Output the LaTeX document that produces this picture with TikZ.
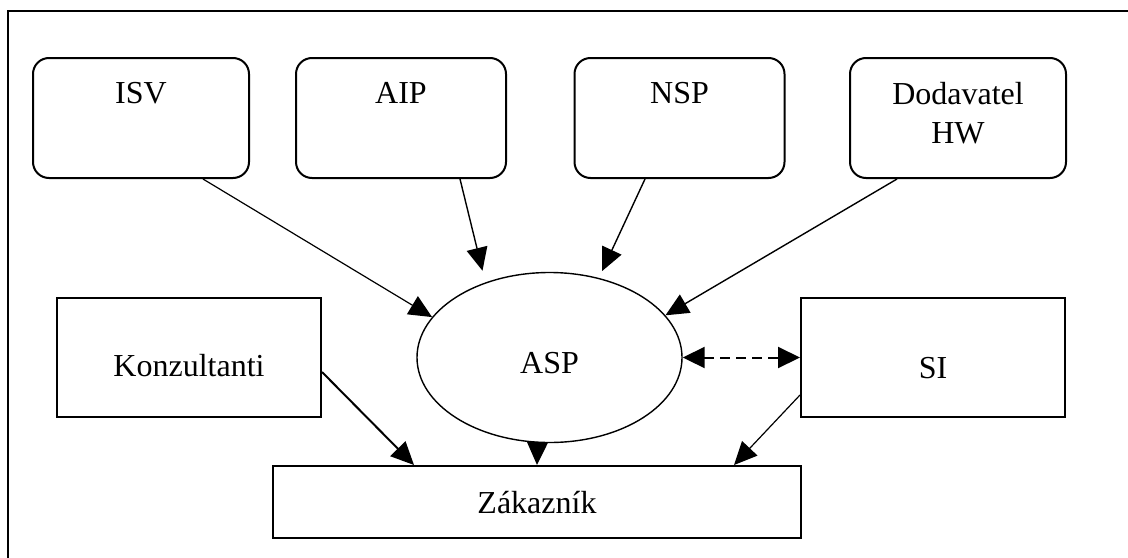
\documentclass[tikz,border=0pt]{standalone}
\usepackage{fontspec}
\setmainfont{Liberation Serif}
\usetikzlibrary{shapes.geometric,arrows.meta}
\newcommand\diagfont{\fontsize{16}{19.5}\selectfont}
\tikzset{
  topbox/.style={draw, line width=1pt, rounded corners=8pt, minimum height=60pt, inner sep=0pt},
  toptext/.style={anchor=north, inner sep=0pt, align=center, yshift=-12.5pt},
  plainbox/.style={draw, line width=1pt, inner sep=0pt, text depth=0pt},
  arr/.style={-{Triangle[length=11.5pt,width=10.5pt]}, line width=0.7pt},
  dblarr/.style={{Triangle[length=11pt,width=10.5pt]}-{Triangle[length=11pt,width=10.5pt]}, line width=1pt, dash pattern=on 5pt off 3pt},
}
\begin{document}
\begin{tikzpicture}[x=0.5pt,y=-0.5pt,font=\diagfont]
\useasboundingbox (0,0) rectangle (1128,557);
% frame (top and left sides only visible)
\draw[line width=1pt] (8,562) -- (8,11) -- (1133,11);

% top row
\node[topbox, minimum width=108pt, label={[name=isvt, toptext]north:ISV}] (isv) at (141,118) {};
\node[topbox, minimum width=105pt, label={[name=aipt, toptext]north:AIP}] (aip) at (401,118) {};
\node[topbox, minimum width=105pt, label={[name=nspt, toptext]north:NSP}] (nsp) at (679.5,118) {};
\node[topbox, minimum width=108pt, label={[name=dodt, toptext]north:Dodavatel\\HW}] (dod) at (958,118) {};

% middle row
\node[plainbox, minimum width=132pt, minimum height=59.5pt, text height=18.5pt] (kon) at (189,357.5) {Konzultanti};
\node[draw, ellipse, line width=0.7pt, inner sep=0pt, minimum width=132.5pt, minimum height=85pt, text height=16pt, text depth=0pt] (asp) at (549.5,357.5) {ASP};
\node[plainbox, minimum width=132pt, minimum height=59.5pt, text height=21pt] (si) at (933,357.5) {SI};

% bottom
\node[plainbox, minimum width=264pt, minimum height=36pt, text height=11pt] (zak) at (537,502) {Zákazník};

% connectors
\draw[arr, line width=0.6pt] ([xshift=31pt]isv.south) -- (asp.161);
\draw[arr] ([xshift=29.5pt]aip.south) -- ([shift={(-1pt,6pt)}]asp.131);
\draw[arr] ([xshift=-17.25pt]nsp.south) -- ([shift={(1.5pt,3.5pt)}]asp.58);
\draw[arr] ([xshift=-30.5pt]dod.south) -- (asp.20);
\draw[dblarr] (asp.east) -- (si.west);
\draw[arr, line width=1pt] ([yshift=-7.25pt]kon.east) -- ([xshift=71pt]zak.north west);
\draw[arr] (asp.262) -- (zak.north);
\draw[arr, line width=0.6pt] ([yshift=-18.75pt]si.west) -- ([xshift=-34pt]zak.north east);
\end{tikzpicture}
\end{document}
